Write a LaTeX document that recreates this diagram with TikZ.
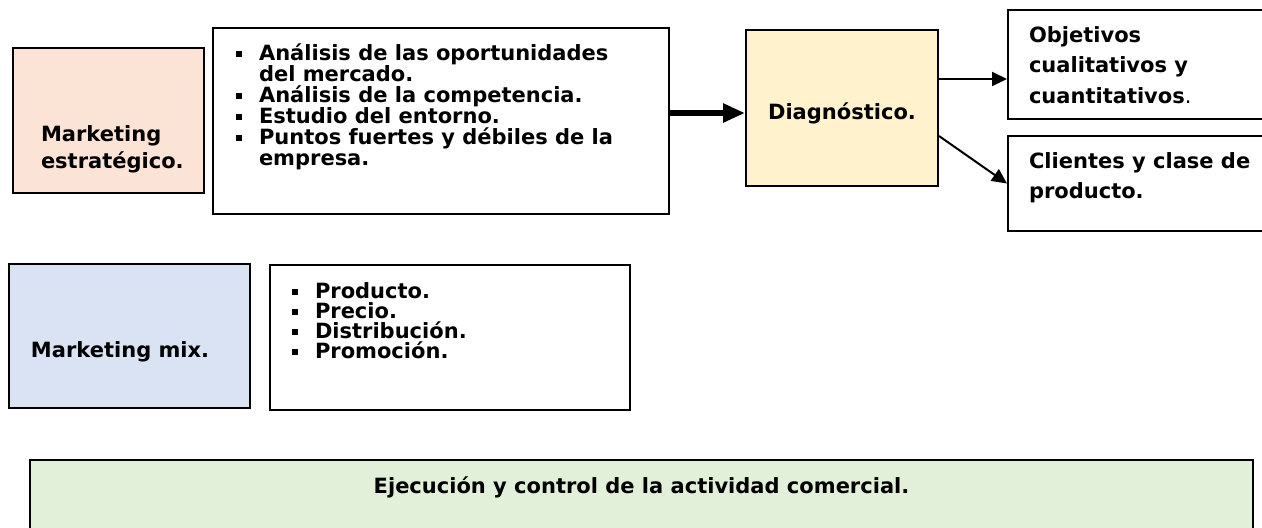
\documentclass[tikz,border=0pt]{standalone}
\usepackage{fontspec}
\setmainfont{DejaVu Sans}
\usetikzlibrary{arrows.meta}

\definecolor{peach}{HTML}{FBE4D5}
\definecolor{sand}{HTML}{FFF2CC}
\definecolor{sky}{HTML}{DAE3F3}
\definecolor{mint}{HTML}{E2EFD9}

\newcommand{\sq}{\makebox[11.5pt][l]{\rule[0.12em]{0.3em}{0.3em}}}
\newcommand{\ind}{\hspace*{11.5pt}}
% width, height, top gap, line pitch, alignment, lines
\newcommand{\boxtext}[6]{\parbox[b][#2][t]{#1}{#5\baselineskip=#4\relax\lineskiplimit=-50pt\relax\vspace*{#3}\rule{0pt}{11pt}#6}}

\begin{document}
\begin{tikzpicture}[
        x = 0.5pt, y = -0.5pt, % one unit = one pixel of the sketch
        box/.style = {
            draw = black,
            line width = 1pt,
            inner sep = 0pt,
            anchor = north west,
            font = \fontsize{10.5pt}{10pt}\selectfont\bfseries
        },
        link/.style = {line width = 1pt, -{Triangle[length=7.5pt, width=7pt]}},
        biglink/.style = {line width = 3pt, -{Triangle[length=11pt, width=9pt]}}
    ]
    \useasboundingbox (0,0) rectangle (1262,527);
    \clip (0,0) rectangle (1262,527);

    % upper row
    \node[box, fill=peach] (estr) at (12,47)
        {\boxtext{95.5pt}{72.5pt}{35.5pt}{13.5pt}{\raggedright\leftskip=14pt}{Marketing\\estratégico.}};
    \node[box, fill=white] (anal) at (212,27)
        {\boxtext{228pt}{93pt}{5pt}{10.5pt}{\raggedright\leftskip=11.5pt}{%
        \sq Análisis de las oportunidades\\ \ind del mercado.\\
        \sq Análisis de la competencia.\\ \sq Estudio del entorno.\\
        \sq Puntos fuertes y débiles de la\\ \ind empresa.}};
    \node[box, fill=sand] (diag) at (745,29)
        {\boxtext{96pt}{78pt}{33.5pt}{10pt}{\centering}{Diagnóstico.}};
    \node[box, fill=white] (obj) at (1007,9)
        {\boxtext{150pt}{54.5pt}{5pt}{15.25pt}{\raggedright\leftskip=10.5pt}{Objetivos\\cualitativos y\\cuantitativos{\mdseries .}}};
    \node[box, fill=white] (cli) at (1007,135)
        {\boxtext{150pt}{47.5pt}{5pt}{15pt}{\raggedright\leftskip=10.5pt}{Clientes y clase de\\producto.}};

    % lower rows
    \node[box, fill=sky] (mix) at (8,263)
        {\boxtext{120.5pt}{72pt}{35.5pt}{10pt}{\raggedright\leftskip=11pt}{Marketing mix.}};
    \node[box, fill=white] (mixlist) at (269,264)
        {\boxtext{180pt}{72.5pt}{5.5pt}{10pt}{\raggedright\leftskip=11pt}{%
        \sq Producto.\\ \sq Precio.\\ \sq Distribución.\\ \sq Promoción.}};
    \node[box, fill=mint] (ejec) at (29,459)
        {\boxtext{611.5pt}{50pt}{5.5pt}{10pt}{\centering}{Ejecución y control de la actividad comercial.}};

    \draw[biglink] ([yshift=4pt]anal.east) -- ([yshift=-2.5pt]diag.west);
    \draw[link] ([yshift=14.5pt]diag.east) -- ([yshift=-7.25pt]obj.west);
    \draw[link] ([yshift=-14pt]diag.east) -- (cli.west);
\end{tikzpicture}
\end{document}
